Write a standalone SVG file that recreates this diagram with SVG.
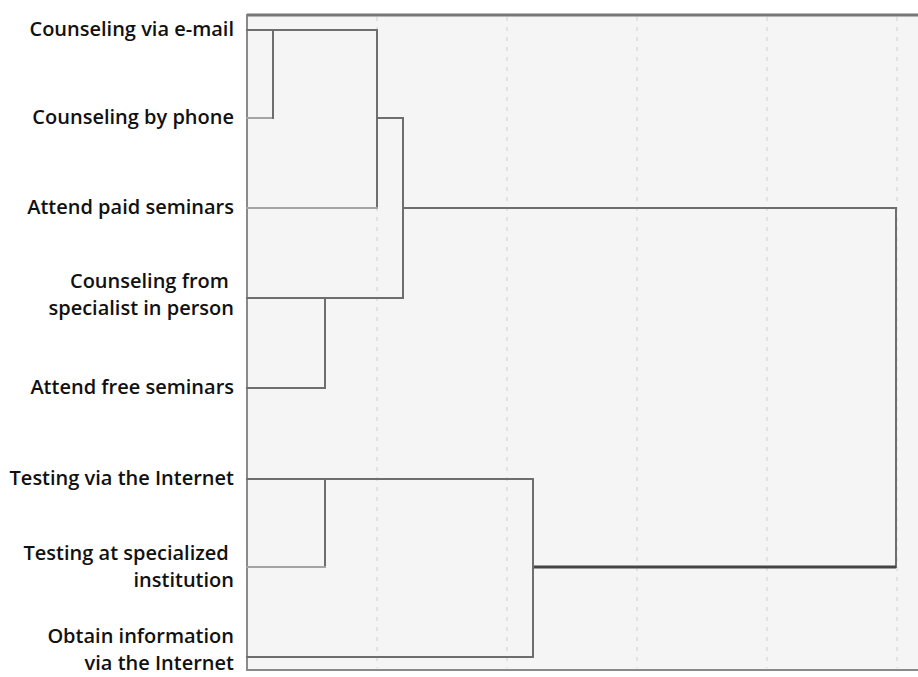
<svg xmlns="http://www.w3.org/2000/svg" width="918" height="677" viewBox="0 0 918 677">
<style>
.lbl{font-family:"Open Sans","Noto Sans","Liberation Sans",sans-serif;font-weight:600;font-size:20px;fill:#111;text-anchor:end}
.grid{stroke:#dcdcdc;stroke-width:1.5;stroke-dasharray:4 6;fill:none}
.ln{stroke:#6e6e6e;stroke-width:2;fill:none;stroke-linecap:square}
.lt{stroke:#a4a4a4;stroke-width:2;fill:none;stroke-linecap:square}
.dk{stroke:#444;stroke-width:3;fill:none}
</style>
<rect x="0" y="0" width="918" height="677" fill="#fff"/>
<g id="plot">
<rect x="247" y="15" width="690" height="655" fill="#f5f5f5" stroke="#8a8a8a" stroke-width="2"/>
<line x1="247" y1="15" x2="918" y2="15" stroke="#777" stroke-width="3"/>
<line class="grid" x1="377" y1="17" x2="377" y2="668"/>
<line class="grid" x1="507" y1="17" x2="507" y2="668"/>
<line class="grid" x1="637" y1="17" x2="637" y2="668"/>
<line class="grid" x1="767" y1="17" x2="767" y2="668"/>
<line class="grid" x1="897" y1="17" x2="897" y2="668"/>
</g>
<g id="labels">
<g id="n1"><text class="lbl" x="234" y="36">Counseling via e-mail</text></g>
<g id="n2"><text class="lbl" x="234" y="124">Counseling by phone</text></g>
<g id="n3"><text class="lbl" x="234" y="214">Attend paid seminars</text></g>
<g id="n4"><text class="lbl" xml:space="preserve"><tspan x="234" y="288">Counseling from </tspan><tspan x="234" y="315">specialist in person</tspan></text></g>
<g id="n5"><text class="lbl" x="234" y="394">Attend free seminars</text></g>
<g id="n6"><text class="lbl" x="234" y="485">Testing via the Internet</text></g>
<g id="n7"><text class="lbl" xml:space="preserve"><tspan x="234" y="560">Testing at specialized </tspan><tspan x="234" y="587">institution</tspan></text></g>
<g id="n8"><text class="lbl"><tspan x="234" y="643">Obtain information</tspan><tspan x="234" y="670">via the Internet</tspan></text></g>
</g>
<g id="connectors">
<path class="lt" d="M247,118 H273"/>
<path class="ln" d="M273,118 V30"/>
<path class="ln" d="M247,30 H377"/>
<path class="ln" d="M377,30 V208"/>
<path class="lt" d="M247,208 H377"/>
<path class="ln" d="M377,118 H403"/>
<path class="ln" d="M403,118 V298"/>
<path class="ln" d="M247,298 H403"/>
<path class="ln" d="M325,298 V388"/>
<path class="ln" d="M247,388 H325"/>
<path class="ln" d="M403,208 H896"/>
<path class="ln" d="M896,208 V567"/>
<path class="dk" d="M533,567 H896"/>
<path class="ln" d="M247,479 H533"/>
<path class="ln" d="M325,479 V567"/>
<path class="lt" d="M247,567 H325"/>
<path class="ln" d="M533,479 V657"/>
<path class="ln" d="M247,657 H533"/>
</g>
</svg>
